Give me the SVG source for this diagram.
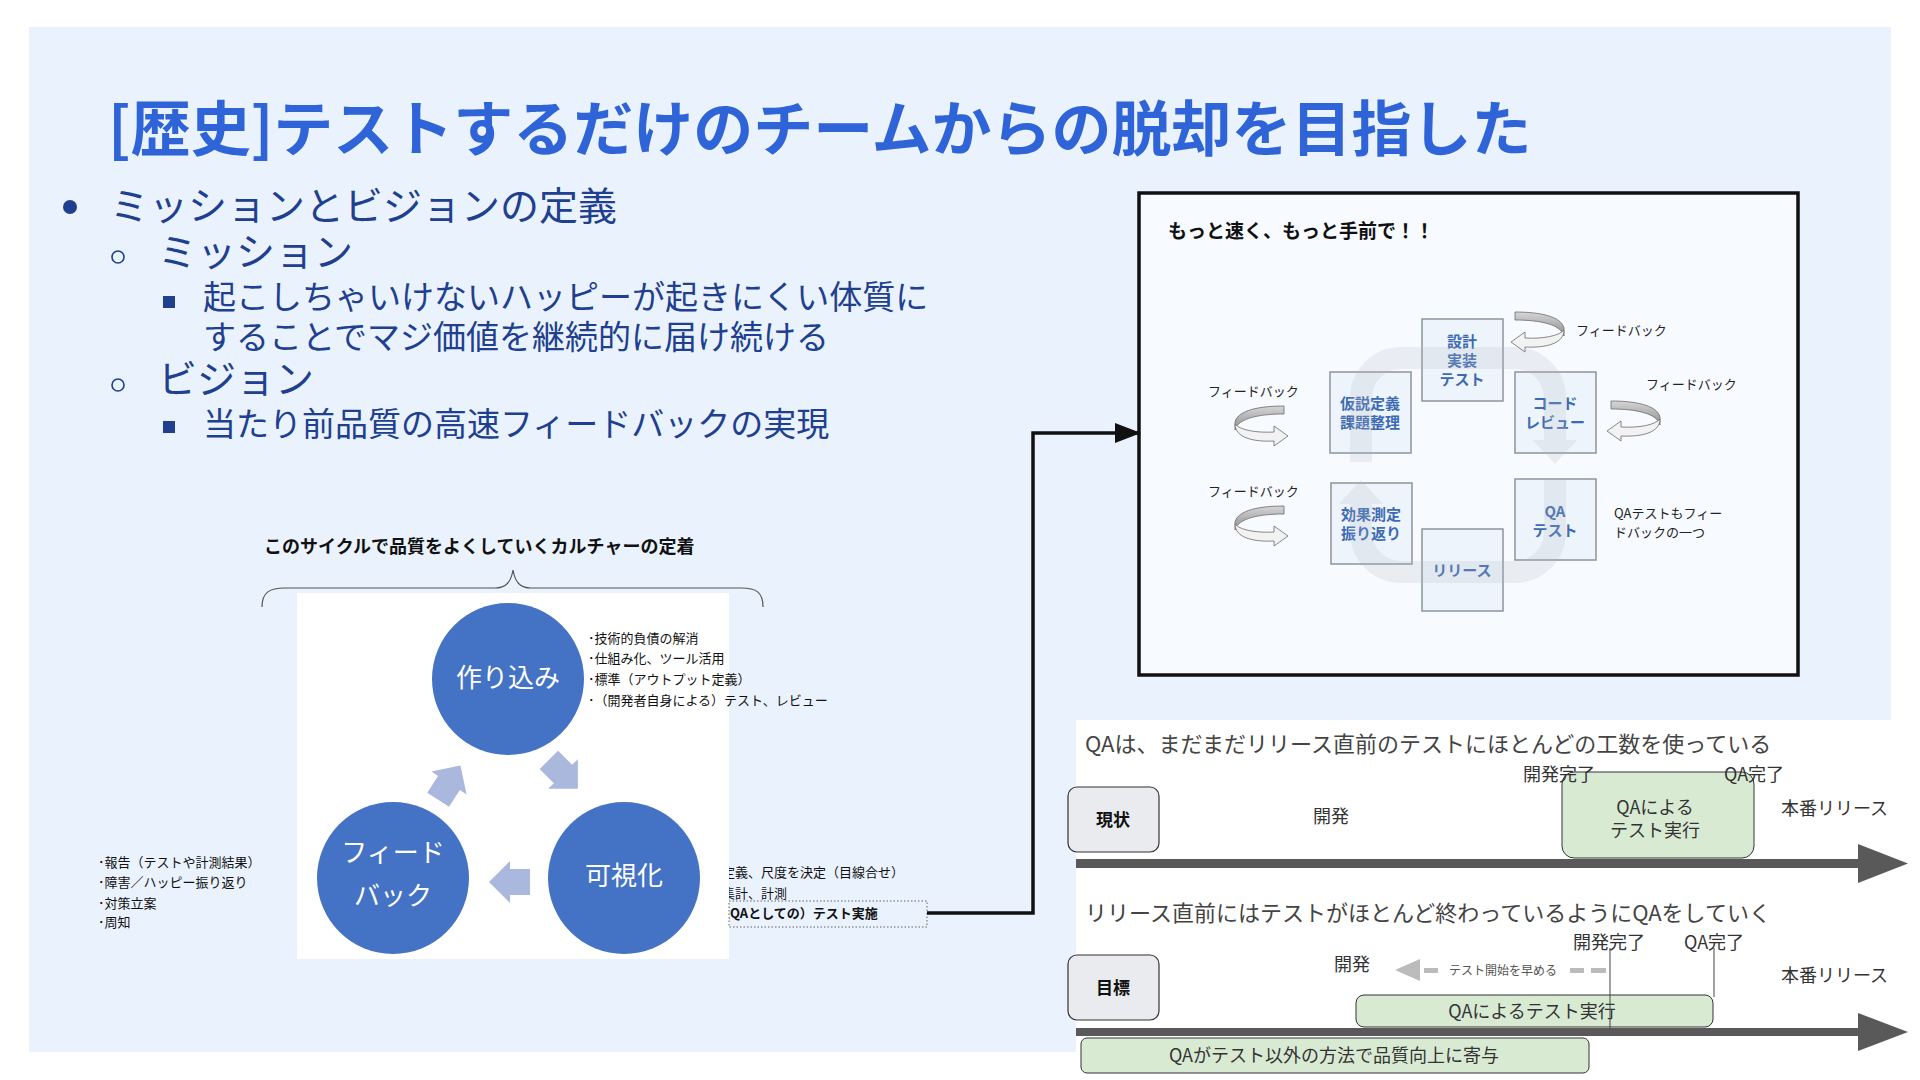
<svg xmlns="http://www.w3.org/2000/svg" xmlns:xlink="http://www.w3.org/1999/xlink" width="1920" height="1080" viewBox="0 0 1920 1080">
<style>
text{font-family:'Noto Sans CJK JP','Noto Sans',sans-serif}
.title{font-size:60px;font-weight:700;fill:#2f64d8}
.l1{font-size:39px;fill:#203f8f}
.l3{font-size:33px;fill:#203f8f}
.cbox{fill:#eef4fc;stroke:#8f949c;stroke-width:1.5}
.ctxt{font-size:15px;font-weight:700;fill:#3d6bb3;text-anchor:middle}
.fbl{font-size:13px;fill:#222}
.circ{fill:#4472c4}
.ctext{font-size:26px;fill:#fff;text-anchor:middle}
.note{font-size:13px;fill:#111}
.tl{font-size:22px;fill:#444}
.tb{font-size:18px;fill:#333}
.tbc{font-size:18px;fill:#333;text-anchor:middle}
.tag{fill:#e9ebee;stroke:#333;stroke-width:1.2}
.tagt{font-size:17px;font-weight:700;fill:#111;text-anchor:middle}
.green{fill:#d9ead3;stroke:#333;stroke-width:1}
.bar{fill:#595959}
</style>
<defs>
<linearGradient id="rib" x1="0" y1="0" x2="0" y2="1">
<stop offset="0" stop-color="#d6d6d6"/><stop offset="1" stop-color="#8e8e8e"/>
</linearGradient>
<g id="fb">
<path d="M6,0 C30,0 52,4 55,16 L55,24 C52,12 30,8 6,8 Z" fill="url(#rib)" stroke="#6b6b6b" stroke-width="0.8"/>
<path d="M55,18 C55,32 36,36 16,35 L16,40 L2,30 L16,20 L16,26 C34,27 50,24 55,18 Z" fill="#f2f2f2" stroke="#6b6b6b" stroke-width="0.8"/>
</g>
<path id="blk" d="M-20,-13 L0,-13 L0,-21 L21,0 L0,21 L0,13 L-20,13 Z"/>
<marker id="ah" markerUnits="userSpaceOnUse" markerWidth="26" markerHeight="20" refX="24" refY="10" orient="auto">
<path d="M0,0 L26,10 L0,20 Z" fill="#111"/>
</marker>
<clipPath id="clipR"><rect x="729" y="850" width="200" height="90"/></clipPath>
</defs>

<rect x="0" y="0" width="1920" height="1080" fill="#ffffff"/>
<rect x="29" y="27" width="1862" height="1025" fill="#eaf2fd"/>

<g id="title">
<text class="title" x="108" y="151">[歴史]テストするだけのチームからの脱却を目指した</text>
</g>

<g id="bullets">
<circle cx="70" cy="207" r="7" fill="#203f8f"/>
<text class="l1" x="110" y="220">ミッションとビジョンの定義</text>
<circle cx="118" cy="257" r="6" fill="none" stroke="#203f8f" stroke-width="1.6"/>
<text class="l1" x="158" y="266">ミッション</text>
<rect x="163" y="296" width="12" height="12" fill="#203f8f"/>
<text class="l3" x="203" y="309">起こしちゃいけないハッピーが起きにくい体質に</text>
<text class="l3" x="203" y="349">することでマジ価値を継続的に届け続ける</text>
<circle cx="118" cy="385" r="6" fill="none" stroke="#203f8f" stroke-width="1.6"/>
<text class="l1" x="158" y="393">ビジョン</text>
<rect x="163" y="421" width="12" height="12" fill="#203f8f"/>
<text class="l3" x="203" y="436">当たり前品質の高速フィードバックの実現</text>
</g>

<g id="cycle-panel">
<rect x="1139" y="193" width="659" height="482" fill="#f7faff" stroke="#111" stroke-width="3.5"/>
<text x="1168" y="238" font-size="19" font-weight="700" fill="#111">もっと速く、もっと手前で！！</text>
</g>

<g id="box-design"><rect class="cbox" x="1422" y="319" width="81" height="82"/>
<text class="ctxt" x="1462" y="347">設計</text><text class="ctxt" x="1462" y="366">実装</text><text class="ctxt" x="1462" y="385">テスト</text></g>
<g id="box-hypo"><rect class="cbox" x="1330" y="372" width="81" height="81"/>
<text class="ctxt" x="1370" y="409">仮説定義</text><text class="ctxt" x="1370" y="428">課題整理</text></g>
<g id="box-review"><rect class="cbox" x="1515" y="372" width="81" height="81"/>
<text class="ctxt" x="1555" y="409">コード</text><text class="ctxt" x="1555" y="428">レビュー</text></g>
<g id="box-measure"><rect class="cbox" x="1331" y="483" width="81" height="81"/>
<text class="ctxt" x="1371" y="520">効果測定</text><text class="ctxt" x="1371" y="539">振り返り</text></g>
<g id="box-qa"><rect class="cbox" x="1515" y="479" width="81" height="81"/>
<text class="ctxt" x="1555" y="517">QA</text><text class="ctxt" x="1555" y="536">テスト</text></g>
<g id="box-release"><rect class="cbox" x="1422" y="529" width="81" height="82"/>
<text class="ctxt" x="1462" y="576">リリース</text></g>

<g id="loop" opacity="0.2" fill="#b5b9c0">
<path d="M1361,462 L1361,398 A40,40 0 0 1 1401,358 L1515,358 A40,40 0 0 1 1555,398 L1555,440" fill="none" stroke="#b5b9c0" stroke-width="22"/>
<polygon points="1533,440 1577,440 1555,464"/>
<path d="M1555,480 L1555,532 A40,40 0 0 1 1515,572 L1401,572 A40,40 0 0 1 1361,532 L1361,504" fill="none" stroke="#b5b9c0" stroke-width="22"/>
<polygon points="1339,504 1383,504 1361,480"/>
</g>

<g id="feedback-arrows">
<use xlink:href="#fb" href="#fb" transform="translate(1509,312)"/>
<use xlink:href="#fb" href="#fb" transform="translate(1605,401)"/>
<use xlink:href="#fb" href="#fb" transform="translate(1290,406) scale(-1,1)"/>
<use xlink:href="#fb" href="#fb" transform="translate(1290,506) scale(-1,1)"/>
<text class="fbl" x="1576" y="335">フィードバック</text>
<text class="fbl" x="1646" y="389">フィードバック</text>
<text class="fbl" x="1208" y="396">フィードバック</text>
<text class="fbl" x="1208" y="496">フィードバック</text>
<text class="fbl" x="1614" y="518">QAテストもフィー</text>
<text class="fbl" x="1614" y="537">ドバックの一つ</text>
</g>

<g id="culture">
<text x="264" y="553" font-size="18" font-weight="700" fill="#111">このサイクルで品質をよくしていくカルチャーの定着</text>
<path d="M262,607 C262,592 270,588 285,588 L495,588 C506,588 511,582 513,570 C515,582 520,588 531,588 L741,588 C756,588 763,592 763,607" fill="none" stroke="#555" stroke-width="1.2"/>
<rect x="297" y="593" width="432" height="366" fill="#ffffff"/>
</g>

<g id="node-build">
<circle class="circ" cx="508" cy="679" r="76"/>
<text class="ctext" x="508" y="687">作り込み</text>
</g>
<g id="node-feedback">
<circle class="circ" cx="393" cy="878" r="76"/>
<text class="ctext" x="393" y="862">フィード</text>
<text class="ctext" x="393" y="905">バック</text>
</g>
<g id="node-visual">
<circle class="circ" cx="624" cy="878" r="76"/>
<text class="ctext" x="624" y="885">可視化</text>
</g>
<g id="cycle-arrows" fill="#aab8dd">
<use xlink:href="#blk" href="#blk" transform="translate(563,774) rotate(45)"/>
<use xlink:href="#blk" href="#blk" transform="translate(510,882) rotate(180)"/>
<use xlink:href="#blk" href="#blk" transform="translate(449,783) rotate(-57)"/>
</g>

<g id="notes">
<text class="note" x="588" y="643">･技術的負債の解消</text>
<text class="note" x="588" y="663">･仕組み化、ツール活用</text>
<text class="note" x="588" y="684">･標準（アウトプット定義）</text>
<text class="note" x="588" y="705">･（開発者自身による）テスト、レビュー</text>
<text class="note" x="98" y="867">･報告（テストや計測結果）</text>
<text class="note" x="98" y="887">･障害／ハッピー振り返り</text>
<text class="note" x="98" y="908">･対策立案</text>
<text class="note" x="98" y="927">･周知</text>
<g clip-path="url(#clipR)">
<text class="note" x="722" y="877">定義、尺度を決定（目線合せ）</text>
<text class="note" x="722" y="898">集計、計測</text>
<text class="note" x="717" y="918" font-weight="700">（QAとしての）テスト実施</text>
</g>
<rect x="729" y="901" width="198" height="26" fill="none" stroke="#666" stroke-width="1" stroke-dasharray="1.5,2"/>
</g>

<g id="connectors">
<polyline points="927,913 1033,913 1033,433 1139,433" fill="none" stroke="#111" stroke-width="3.5" marker-end="url(#ah)"/>
</g>

<g id="timeline">
<rect x="1076" y="720" width="815" height="360" fill="#ffffff"/>
<text class="tl" x="1085" y="752">QAは、まだまだリリース直前のテストにほとんどの工数を使っている</text>
<g id="tag-now"><rect class="tag" x="1068" y="787" width="91" height="65" rx="9"/><text class="tagt" x="1113" y="826">現状</text></g>
<text class="tbc" x="1331" y="823">開発</text>
<rect class="green" x="1562" y="772" width="192" height="86" rx="12"/>
<text class="tbc" x="1655" y="814">QAによる</text>
<text class="tbc" x="1655" y="837">テスト実行</text>
<text class="tb" x="1523" y="781" font-size="17">開発完了</text>
<text class="tb" x="1724" y="781" font-size="17">QA完了</text>
<text class="tb" x="1781" y="815">本番リリース</text>
<rect class="bar" x="1076" y="859" width="784" height="9"/>
<polygon class="bar" points="1858,844 1908,863.5 1858,883"/>

<text class="tl" x="1085" y="921">リリース直前にはテストがほとんど終わっているようにQAをしていく</text>
<g id="tag-goal"><rect class="tag" x="1068" y="955" width="91" height="65" rx="9"/><text class="tagt" x="1113" y="994">目標</text></g>
<text class="tbc" x="1352" y="971">開発</text>
<text class="tb" x="1573" y="949" font-size="17">開発完了</text>
<text class="tb" x="1684" y="949" font-size="17">QA完了</text>
<text class="tb" x="1781" y="982">本番リリース</text>
<polygon points="1395,970 1420,959 1420,981" fill="#bbb"/>
<rect x="1424" y="968" width="14" height="5" fill="#bbb"/>
<text x="1449" y="975" font-size="12" fill="#555">テスト開始を早める</text>
<rect x="1570" y="968" width="14" height="5" fill="#bbb"/>
<rect x="1591" y="968" width="15" height="5" fill="#bbb"/>
<rect class="green" x="1356" y="995" width="357" height="32" rx="8"/>
<text class="tbc" x="1532" y="1018">QAによるテスト実行</text>
<line x1="1610" y1="948" x2="1610" y2="1030" stroke="#444" stroke-width="1"/>
<line x1="1714" y1="948" x2="1714" y2="997" stroke="#444" stroke-width="1"/>
<rect class="bar" x="1076" y="1028" width="784" height="8"/>
<polygon class="bar" points="1858,1013 1908,1032 1858,1051"/>
<rect class="green" x="1081" y="1038" width="508" height="35" rx="6"/>
<text class="tbc" x="1334" y="1062">QAがテスト以外の方法で品質向上に寄与</text>
</g>
</svg>
